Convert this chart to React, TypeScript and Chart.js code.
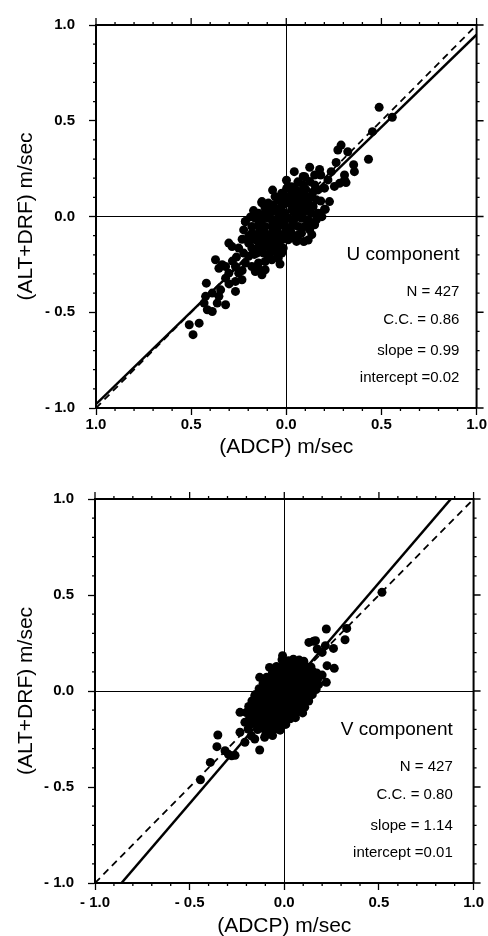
import React, { useEffect, useRef } from 'react';
import { Chart, registerables } from 'chart.js';

Chart.register(...registerables);

const FONT = '"Liberation Sans", Arial, Helvetica, sans-serif';

// Axis ticks / labels
const MAJOR_TICKS = [-1, -0.5, 0, 0.5, 1];
const MINOR_TICKS = [-0.9, -0.8, -0.7, -0.6, -0.4, -0.3, -0.2, -0.1, 0.1, 0.2, 0.3, 0.4, 0.6, 0.7, 0.8, 0.9];
const X_TICK_LABELS_U = ['1.0', '0.5', '0.0', '0.5', '1.0'];
const X_TICK_LABELS_V = ['- 1.0', '- 0.5', '0.0', '0.5', '1.0'];
const Y_TICK_LABELS = ['- 1.0', '- 0.5', '0.0', '0.5', '1.0'];
const X_TITLE = '(ADCP) m/sec';
const Y_TITLE = '(ALT+DRF) m/sec';

// Reference lines
const ONE_TO_ONE: [number, number][] = [[-1, -1], [1, 1]];
const U_FIT: [number, number][] = [[-1, -0.98], [1, 0.95]];
const V_FIT: [number, number][] = [[-0.86, -1], [0.88, 1]];

// Annotation texts
const U_STATS = ['U component', 'N = 427', 'C.C. = 0.86', 'slope = 0.99', 'intercept =0.02'];
const V_STATS = ['V component', 'N = 427', 'C.C. = 0.80', 'slope = 1.14', 'intercept =0.01'];
const STATS_Y = [-0.2, -0.395, -0.54, -0.7, -0.845];

// U component scatter (ADCP, ALT+DRF)
const U_POINTS: [number, number][] = [
  [0.488, 0.570], [0.557, 0.518], [0.453, 0.443], [0.432, 0.299], [0.288, 0.373], [0.271, 0.347],
  [0.323, 0.338], [0.262, 0.282], [0.354, 0.270], [0.358, 0.234], [0.306, 0.217], [0.314, 0.177],
  [0.253, 0.157], [0.227, 0.078], [0.205, 0.038], [0.236, 0.234], [0.219, 0.191], [0.306, 0.191],
  [0.280, 0.173], [0.042, 0.234], [0.123, 0.257], [0.175, 0.246], [0.097, 0.208], [0.149, 0.217],
  [0.028, 0.156], [0.181, 0.217],
  [0.089, 0.209], [0.123, 0.183], [0.089, 0.165], [0.149, 0.165], [0.167, 0.139], [0.201, 0.148],
  [0.010, 0.157], [0.045, 0.148], [0.071, 0.130], [0.010, 0.104], [0.054, 0.104], [0.097, 0.113],
  [0.132, 0.104], [0.158, 0.087], [0.141, 0.052], [0.167, 0.017], [0.158, -0.017], [0.149, -0.043],
  [0.123, -0.070], [0.115, -0.123], [0.054, -0.130], [0.080, -0.087], [0.063, -0.097],
  [-0.024, 0.122], [-0.059, 0.104], [-0.128, 0.078], [-0.094, 0.070], [-0.042, 0.087], [-0.068, 0.061],
  [-0.024, 0.052], [0.010, 0.070], [0.054, 0.070], [0.089, 0.070], [0.123, 0.061], [0.028, 0.035],
  [0.063, 0.035], [0.097, 0.035], [0.132, 0.017], [-0.007, 0.017], [-0.042, 0.017], [-0.076, 0.026],
  [-0.111, 0.017], [-0.146, 0.017], [-0.163, -0.009], [-0.128, -0.017], [-0.094, -0.009], [-0.059, -0.017],
  [-0.024, -0.017], [0.010, -0.009], [0.045, -0.009], [0.080, -0.009], [0.115, -0.017], [0.201, 0.038],
  [-0.215, -0.026], [-0.224, -0.070], [-0.181, -0.052], [-0.146, -0.052], [-0.111, -0.052], [-0.076, -0.052],
  [-0.042, -0.052], [-0.007, -0.052], [0.028, -0.052], [0.063, -0.052], [0.097, -0.052],
  [-0.181, -0.087], [-0.146, -0.087], [-0.111, -0.087], [-0.076, -0.087], [-0.042, -0.087], [-0.007, -0.087],
  [0.028, -0.087], [0.045, -0.108], [0.010, -0.122], [-0.024, -0.122], [-0.059, -0.122], [-0.094, -0.122],
  [-0.128, -0.122], [-0.163, -0.122], [-0.198, -0.139], [-0.250, -0.165], [-0.302, -0.139], [-0.285, -0.157],
  [-0.224, -0.191], [-0.181, -0.165], [-0.146, -0.157], [-0.111, -0.157], [-0.076, -0.157], [-0.042, -0.157],
  [-0.016, -0.165], [-0.050, -0.191], [-0.085, -0.191], [-0.120, -0.191], [-0.155, -0.191], [-0.042, -0.217],
  [-0.076, -0.226], [-0.111, -0.235], [-0.146, -0.243], [-0.181, -0.261], [-0.163, -0.287], [-0.128, -0.304],
  [-0.111, -0.278], [-0.215, -0.243], [-0.267, -0.261], [-0.250, -0.296], [-0.233, -0.330], [-0.267, -0.339],
  [-0.302, -0.296], [-0.337, -0.252], [-0.372, -0.226], [-0.354, -0.270], [-0.319, -0.261], [-0.267, -0.391],
  [-0.319, -0.322], [-0.345, -0.383], [-0.354, -0.417], [-0.319, -0.461], [-0.389, -0.400], [-0.424, -0.417],
  [-0.420, -0.348], [-0.432, -0.452], [-0.415, -0.487], [-0.389, -0.496], [-0.458, -0.557], [-0.510, -0.565],
  [-0.490, -0.617], [-0.363, -0.452], [-0.024, -0.191], [-0.129, 0.072], [0.002, 0.147], [-0.215, -0.027],
  [-0.012, 0.088], [0.031, 0.121], [0.072, 0.097], [0.112, 0.084], [-0.081, 0.041], [0.041, 0.052],
  [0.083, 0.012], [0.112, -0.036], [0.036, -0.031], [-0.011, -0.034], [-0.062, -0.071], [-0.129, -0.069],
  [-0.162, -0.105], [-0.092, -0.105], [-0.033, -0.104], [0.011, -0.069], [-0.058, -0.140], [-0.198, -0.103],
  [-0.129, -0.172], [-0.095, -0.208], [-0.198, -0.208], [-0.232, -0.119], [0.181, 0.081], [0.187, -0.001],
  [0.134, -0.095], [0.092, -0.131], [-0.262, -0.212], [-0.283, -0.233], [-0.232, -0.282], [-0.301, -0.352],
  [0.032, 0.088], [0.068, 0.052], [0.108, 0.028], [-0.041, 0.041], [-0.092, 0.043], [-0.052, -0.031],
  [0.001, -0.068], [-0.142, -0.031], [-0.102, -0.141], [-0.063, -0.172], [-0.168, -0.198], [0.102, 0.142],
  [0.061, 0.181], [-0.188, -0.002], [-0.072, 0.138], [0.001, 0.189], [-0.033, -0.248], [-0.142, -0.278],
  [0.141, 0.128], [0.052, 0.012], [-0.112, 0.047], [-0.172, 0.031], [0.021, -0.112], [-0.081, -0.012],
];

// V component scatter (ADCP, ALT+DRF)
const V_POINTS: [number, number][] = [
  [0.516, 0.514], [0.330, 0.326], [0.321, 0.267], [0.222, 0.323], [0.260, 0.222], [0.264, 0.118],
  [0.226, 0.132], [0.200, 0.083], [0.222, 0.045], [0.165, 0.262], [0.130, 0.253], [0.174, 0.219],
  [0.200, 0.201], [0.217, 0.236], [0.155, 0.259], [-0.009, 0.184], [-0.078, 0.123], [-0.130, 0.071],
  [-0.156, -0.024], [-0.234, -0.111], [-0.208, -0.163], [-0.182, -0.137], [-0.351, -0.229], [-0.234, -0.215],
  [-0.356, -0.290], [-0.313, -0.311], [-0.278, -0.337], [-0.391, -0.372], [-0.443, -0.462], [-0.156, -0.250],
  [-0.130, -0.307], [-0.208, -0.267], [-0.174, -0.233], [-0.104, -0.241], [-0.087, -0.198], [-0.191, -0.198],
  [-0.295, -0.330], [-0.260, -0.335],
  [-0.012, 0.163], [0.022, 0.158], [0.048, 0.166], [0.079, 0.161], [0.103, 0.155],
  [-0.041, 0.128], [-0.008, 0.134], [0.024, 0.127], [0.052, 0.133], [0.083, 0.126], [0.112, 0.131], [0.141, 0.125],
  [-0.062, 0.098], [-0.027, 0.104], [0.003, 0.097], [0.031, 0.102], [0.058, 0.095], [0.091, 0.101], [0.118, 0.097],
  [0.149, 0.103], [0.171, 0.094],
  [-0.093, 0.072], [-0.058, 0.067], [-0.031, 0.074], [0.004, 0.068], [0.029, 0.071], [0.062, 0.066], [0.088, 0.073],
  [0.121, 0.068], [0.152, 0.071], [0.178, 0.065],
  [-0.112, 0.041], [-0.081, 0.036], [-0.049, 0.043], [-0.018, 0.038], [0.012, 0.042], [0.043, 0.035], [0.071, 0.041],
  [0.102, 0.037], [0.128, 0.044], [0.158, 0.039], [0.181, 0.033],
  [-0.133, 0.012], [-0.098, 0.007], [-0.072, 0.013], [-0.039, 0.008], [-0.011, 0.011], [0.021, 0.006], [0.052, 0.013],
  [0.079, 0.009], [0.109, 0.004], [0.139, 0.012], [0.168, 0.008],
  [-0.152, -0.018], [-0.121, -0.023], [-0.089, -0.017], [-0.062, -0.022], [-0.028, -0.019], [0.002, -0.024],
  [0.031, -0.016], [0.061, -0.021], [0.092, -0.018], [0.119, -0.025], [0.148, -0.019],
  [-0.171, -0.052], [-0.138, -0.047], [-0.109, -0.053], [-0.081, -0.049], [-0.048, -0.054], [-0.021, -0.048],
  [0.012, -0.051], [0.039, -0.046], [0.071, -0.053], [0.098, -0.049], [0.129, -0.052],
  [-0.188, -0.081], [-0.161, -0.077], [-0.128, -0.083], [-0.098, -0.078], [-0.071, -0.084], [-0.038, -0.079],
  [-0.012, -0.082], [0.019, -0.077], [0.048, -0.083], [0.081, -0.078], [0.108, -0.084],
  [-0.201, -0.112], [-0.168, -0.107], [-0.141, -0.113], [-0.108, -0.109], [-0.079, -0.114], [-0.052, -0.108],
  [-0.019, -0.111], [0.011, -0.106], [0.038, -0.113], [0.069, -0.109], [0.097, -0.114],
  [-0.181, -0.142], [-0.149, -0.138], [-0.121, -0.144], [-0.088, -0.139], [-0.061, -0.143], [-0.028, -0.137],
  [0.002, -0.141], [0.031, -0.145], [0.059, -0.139],
  [-0.172, -0.171], [-0.139, -0.168], [-0.111, -0.173], [-0.078, -0.167], [-0.049, -0.172], [-0.021, -0.169],
  [0.008, -0.174],
  [-0.141, -0.201], [-0.108, -0.197], [-0.079, -0.203], [-0.051, -0.198], [-0.022, -0.204],
  [-0.098, -0.228], [-0.062, -0.232],
];

const toXY = (arr: [number, number][]) => arr.map(([x, y]) => ({ x, y }));

interface PanelSpec {
  points: [number, number][];
  fit: [number, number][];
  xLabels: string[];
  stats: string[];
  statsX: number;
  height: number;
  padTop: number;
  padRight: number;
  yAxisWidth: number;
  xAxisHeight: number;
  xLabelPad: number;
  xTitlePad: number;
}

function makePlugins(spec: PanelSpec) {
  return [
    {
      id: 'frameAndText',
      afterDraw(chart: any) {
        const { ctx, chartArea: a, scales } = chart;
        const x = scales.x;
        const y = scales.y;
        ctx.save();
        ctx.strokeStyle = '#000';
        ctx.lineWidth = 2;
        ctx.beginPath();
        ctx.moveTo(a.left, a.top);
        ctx.lineTo(a.right, a.top);
        ctx.lineTo(a.right, a.bottom);
        ctx.stroke();
        ctx.lineWidth = 1.3;
        ctx.beginPath();
        for (const v of MAJOR_TICKS) {
          const px = x.getPixelForValue(v);
          ctx.moveTo(px, a.top);
          ctx.lineTo(px, a.top - 7);
          const py = y.getPixelForValue(v);
          ctx.moveTo(a.right, py);
          ctx.lineTo(a.right + 7, py);
        }
        for (const v of MINOR_TICKS) {
          const px = x.getPixelForValue(v);
          ctx.moveTo(px, a.top);
          ctx.lineTo(px, a.top - 3);
          ctx.moveTo(px, a.bottom);
          ctx.lineTo(px, a.bottom + 3);
          const py = y.getPixelForValue(v);
          ctx.moveTo(a.right, py);
          ctx.lineTo(a.right + 3, py);
          ctx.moveTo(a.left, py);
          ctx.lineTo(a.left - 3, py);
        }
        ctx.stroke();
        ctx.fillStyle = '#000';
        ctx.textAlign = 'right';
        ctx.textBaseline = 'middle';
        const tx = x.getPixelForValue(spec.statsX);
        spec.stats.forEach((t, i) => {
          ctx.font = (i === 0 ? '19px ' : '15px ') + FONT;
          ctx.fillText(t, tx, y.getPixelForValue(STATS_Y[i]));
        });
        ctx.restore();
      },
    },
  ];
}

function makeConfig(spec: PanelSpec): any {
  const zeroGrid = (c: any) => (c.tick && c.tick.value === 0 ? '#000' : 'rgba(0,0,0,0)');
  return {
    type: 'scatter',
    data: {
      datasets: [
        {
          data: toXY(ONE_TO_ONE),
          showLine: true,
          borderColor: '#000',
          borderWidth: 1.8,
          borderDash: [7, 5],
          pointRadius: 0,
          order: 0,
        },
        {
          data: toXY(spec.fit),
          showLine: true,
          borderColor: '#000',
          borderWidth: 2.5,
          pointRadius: 0,
          order: 0,
        },
        {
          data: toXY(spec.points),
          pointRadius: 4.5,
          pointBackgroundColor: '#000',
          pointBorderWidth: 0,
          backgroundColor: '#000',
          borderColor: '#000',
          order: 1,
        },
      ],
    },
    options: {
      animation: false,
      responsive: false,
      maintainAspectRatio: false,
      events: [],
      layout: { padding: { top: spec.padTop, right: spec.padRight, left: 0, bottom: 0 } },
      plugins: { legend: { display: false }, tooltip: { enabled: false } },
      scales: {
        x: {
          type: 'linear',
          position: 'bottom',
          min: -1,
          max: 1,
          afterFit: (s: any) => {
            s.height = spec.xAxisHeight;
          },
          ticks: {
            stepSize: 0.5,
            autoSkip: false,
            maxRotation: 0,
            padding: spec.xLabelPad,
            color: '#000',
            font: { family: FONT, size: 15, weight: 'bold' },
            callback: (_v: any, i: number) => spec.xLabels[i],
          },
          grid: {
            drawOnChartArea: true,
            color: zeroGrid,
            lineWidth: 1,
            tickLength: 7,
            tickColor: '#000',
            tickWidth: 1.3,
          },
          border: { display: true, color: '#000', width: 2 },
          title: {
            display: true,
            text: X_TITLE,
            color: '#000',
            font: { family: FONT, size: 21 },
            padding: { top: 0, bottom: spec.xTitlePad },
          },
        },
        y: {
          type: 'linear',
          position: 'left',
          min: -1,
          max: 1,
          afterFit: (s: any) => {
            s.width = spec.yAxisWidth;
          },
          ticks: {
            stepSize: 0.5,
            autoSkip: false,
            padding: 14,
            color: '#000',
            font: { family: FONT, size: 15, weight: 'bold' },
            callback: (_v: any, i: number) => Y_TICK_LABELS[i],
          },
          grid: {
            drawOnChartArea: true,
            color: zeroGrid,
            lineWidth: 1,
            tickLength: 7,
            tickColor: '#000',
            tickWidth: 1.3,
          },
          border: { display: true, color: '#000', width: 2 },
          title: {
            display: true,
            text: Y_TITLE,
            color: '#000',
            font: { family: FONT, size: 21 },
            padding: { top: 14, bottom: 0 },
          },
        },
      },
    },
    plugins: makePlugins(spec),
  };
}

function Panel({ spec }: { spec: PanelSpec }) {
  const ref = useRef<HTMLCanvasElement | null>(null);
  useEffect(() => {
    if (!ref.current) return;
    const chart = new Chart(ref.current, makeConfig(spec));
    return () => chart.destroy();
  }, [spec]);
  return (
    <canvas
      ref={ref}
      width={488}
      height={spec.height}
      style={{ display: 'block', width: 488, height: spec.height }}
    />
  );
}

const U_SPEC: PanelSpec = {
  points: U_POINTS,
  fit: U_FIT,
  xLabels: X_TICK_LABELS_U,
  stats: U_STATS,
  statsX: 0.91,
  height: 468,
  padTop: 25,
  padRight: 8,
  yAxisWidth: 96,
  xAxisHeight: 60,
  xLabelPad: 1,
  xTitlePad: 8,
};

const V_SPEC: PanelSpec = {
  points: V_POINTS,
  fit: V_FIT,
  xLabels: X_TICK_LABELS_V,
  stats: V_STATS,
  statsX: 0.89,
  height: 475,
  padTop: 31,
  padRight: 9,
  yAxisWidth: 95,
  xAxisHeight: 60,
  xLabelPad: 4,
  xTitlePad: 4,
};

export default function App() {
  return (
    <div
      style={{
        position: 'absolute',
        top: 0,
        left: 0,
        width: 488,
        height: 936,
        overflow: 'hidden',
        background: '#fff',
      }}
    >
      <Panel spec={U_SPEC} />
      <Panel spec={V_SPEC} />
    </div>
  );
}
